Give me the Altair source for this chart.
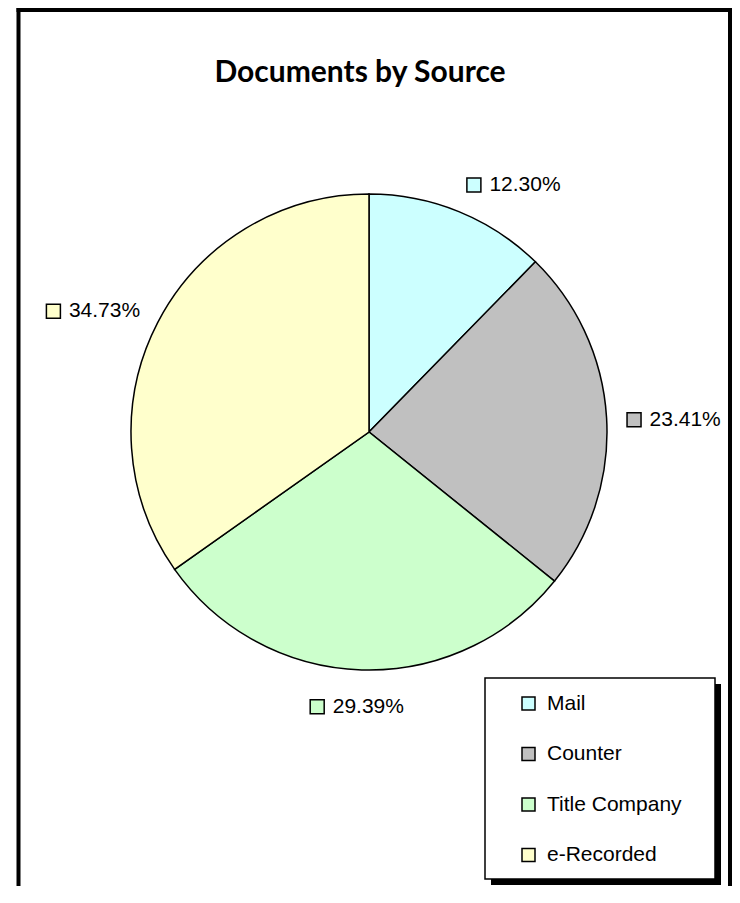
import altair as alt
import pandas as pd

# ---- data ----
categories = ["Mail", "Counter", "Title Company", "e-Recorded"]
shares = [12.30, 23.41, 29.39, 34.73]
colors = ["#CCFFFF", "#C0C0C0", "#CCFFCC", "#FFFFCC"]
title_text = "Documents by Source"

df = pd.DataFrame({"source": categories, "share": shares, "idx": list(range(len(categories)))})

# ---- layout constants ----
W, H = 724, 878
CX, CY, R = 361, 424, 238
G, HW, HH = 20, 47, 13
LABEL_FONT = "'Liberation Sans', Arial, sans-serif"
LABEL_SIZE = 21

color_scale = alt.Scale(domain=categories, range=colors)

pie = alt.Chart(df).mark_arc(radius=R, stroke="black", strokeWidth=1.5).encode(
    theta=alt.Theta("share:Q", stack=True),
    color=alt.Color(
        "source:N",
        scale=color_scale,
        legend=alt.Legend(
            title=None,
            orient="none",
            legendX=477,
            legendY=670,
            direction="vertical",
            fillColor="transparent",
            strokeColor="transparent",
            padding=15,
            symbolType="square",
            symbolSize=169,
            symbolStrokeColor="black",
            symbolStrokeWidth=1.5,
            symbolOffset=18,
            labelOffset=8,
            labelFont=LABEL_FONT,
            labelFontSize=LABEL_SIZE,
            labelColor="black",
            labelLimit=400,
            rowPadding=28.5,
        ),
    ),
    order=alt.Order("idx:Q", sort="ascending"),
    x=alt.value(CX),
    y=alt.value(CY),
)

labels_base = (
    alt.Chart(df)
    .transform_window(cum="sum(share)", sort=[alt.SortField("idx")], frame=[None, 0])
    .transform_joinaggregate(total="sum(share)")
    .transform_calculate(mid="(datum.cum - datum.share / 2) / datum.total * 2 * PI")
    .transform_calculate(gx=f"{CX} + {R + G} * sin(datum.mid) + {HW} * clamp(3 * sin(datum.mid), -1, 1)")
    .transform_calculate(gy=f"{CY} + 4 - {R + G} * cos(datum.mid) - {HH} * cos(datum.mid)")
    .transform_calculate(mx=f"datum.gx - {HW} + 7.5")
    .transform_calculate(tx=f"datum.gx - {HW} + 23")
    .transform_calculate(txt="format(datum.share, '.2f') + '%'")
)

markers = labels_base.mark_point(
    shape="square", filled=True, size=196, stroke="black", strokeWidth=1.5, opacity=1
).encode(
    x=alt.X("mx:Q", scale=None, axis=None),
    y=alt.Y("gy:Q", scale=None, axis=None),
    fill=alt.Fill("source:N", scale=alt.Scale(domain=categories, range=colors), legend=None),
)

texts = labels_base.mark_text(
    align="left", baseline="middle", font=LABEL_FONT, fontSize=LABEL_SIZE, color="black"
).encode(
    x=alt.X("tx:Q", scale=None, axis=None),
    y=alt.Y("gy:Q", scale=None, axis=None),
    text="txt:N",
)

one = alt.Data(values=[{}])
frame = alt.Chart(one).mark_rule(color="black", strokeWidth=4)
left = frame.encode(x=alt.value(10.5), y=alt.value(0), y2=alt.value(H))
right = frame.encode(x=alt.value(W - 2), y=alt.value(0), y2=alt.value(H))
top = frame.encode(x=alt.value(8.5), x2=alt.value(W), y=alt.value(2))

# legend frame and its drop shadow
shadow = alt.Chart(one).mark_rect(color="black").encode(
    x=alt.value(483), x2=alt.value(713), y=alt.value(676), y2=alt.value(877)
)
legend_box = alt.Chart(one).mark_rect(fill="white", stroke="black", strokeWidth=1.5).encode(
    x=alt.value(477), x2=alt.value(707), y=alt.value(670), y2=alt.value(871)
)

chart = (
    alt.layer(left, right, top, pie, shadow, legend_box, markers, texts)
    .resolve_scale(color="independent", fill="independent")
    .properties(
        width=W,
        height=H,
        padding=0,
        autosize=alt.AutoSizeParams(type="none"),
        title=alt.Title(
            title_text,
            font="Lato",
            fontSize=30,
            fontWeight="bold",
            color="black",
            anchor="middle",
            frame="group",
            baseline="alphabetic",
            offset=-106,
            dx=-10,
        ),
    )
    .configure_view(stroke="transparent")
)

chart.save("out.html", embed_options={"renderer": "svg", "actions": False})
